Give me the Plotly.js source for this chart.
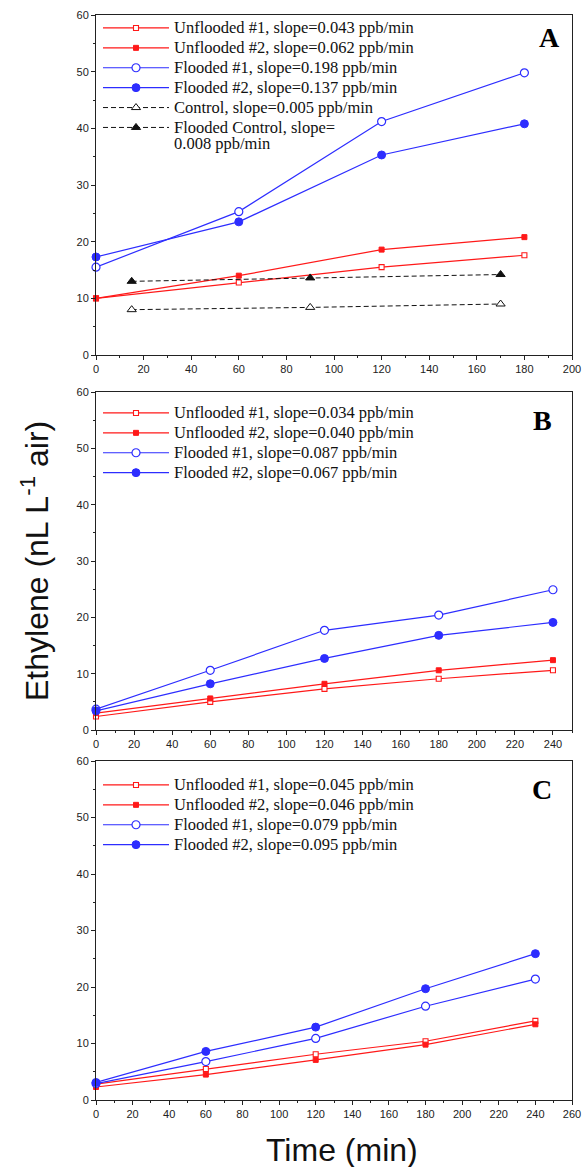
<!DOCTYPE html>
<html>
<head>
<meta charset="utf-8">
<script src="https://cdn.plot.ly/plotly-3.0.1.min.js"></script>
<style>html,body{margin:0;padding:0;background:#fff;}#chart{width:587px;height:1167px;}</style>
</head>
<body>
<div id="chart"></div>
<script>
// ---------- data ----------
const timeA = [0, 60, 120, 180];
const unflooded1A = [10.0, 12.8, 15.5, 17.6];
const unflooded2A = [10.0, 14.0, 18.6, 20.8];
const flooded1A = [15.5, 25.3, 41.2, 49.8];
const flooded2A = [17.3, 23.5, 35.3, 40.8];
const controlTimeA = [15, 90, 170];
const controlA = [8.0, 8.4, 9.0];
const floodedControlA = [13.0, 13.6, 14.2];

const timeB = [0, 60, 120, 180, 240];
const unflooded1B = [2.4, 5.0, 7.3, 9.1, 10.6];
const unflooded2B = [3.0, 5.6, 8.2, 10.6, 12.4];
const flooded1B = [3.7, 10.6, 17.7, 20.4, 24.9];
const flooded2B = [3.4, 8.2, 12.7, 16.8, 19.1];

const timeC = [0, 60, 120, 180, 240];
const unflooded1C = [2.8, 5.5, 8.1, 10.4, 14.0];
const unflooded2C = [2.3, 4.5, 7.1, 9.8, 13.4];
const flooded1C = [2.9, 6.8, 10.9, 16.6, 21.4];
const flooded2C = [3.1, 8.6, 12.9, 19.7, 25.9];

const namesA = ["Unflooded #1, slope=0.043 ppb/min", "Unflooded #2, slope=0.062 ppb/min",
  "Flooded #1, slope=0.198 ppb/min", "Flooded #2, slope=0.137 ppb/min",
  "Control, slope=0.005 ppb/min", "Flooded Control, slope=|0.008 ppb/min"];
const namesB = ["Unflooded #1, slope=0.034 ppb/min", "Unflooded #2, slope=0.040 ppb/min",
  "Flooded #1, slope=0.087 ppb/min", "Flooded #2, slope=0.067 ppb/min"];
const namesC = ["Unflooded #1, slope=0.045 ppb/min", "Unflooded #2, slope=0.046 ppb/min",
  "Flooded #1, slope=0.079 ppb/min", "Flooded #2, slope=0.095 ppb/min"];
const panelLabels = ["A", "B", "C"];
const xTitle = "Time (min)";
const yTitle = "Ethylene (nL L<sup>-1</sup> air)";

// ---------- styling ----------
const RED = "rgb(255,25,25)";
const BLUE = "rgb(45,45,255)";
const BLK = "#111";
const LEGFS = 16.5;
function lg(name) {
  return name.split("|").map(s => '<span style="font-size:' + LEGFS + 'px">' + s + '</span>').join("<br>");
}
// pixel -> paper helpers (layout placement only)
const L = 96, R = 572, T = 15, B = 1100;
const px = v => (v - L) / (R - L);
const py = v => (B - v) / (B - T);

const styles = {
  u1: {line: {color: RED, width: 1.2}, marker: {symbol: "square", size: 5, color: "white", line: {color: RED, width: 1.1}}},
  u2: {line: {color: RED, width: 1.2}, marker: {symbol: "square", size: 5, color: RED, line: {color: RED, width: 1}}},
  f1: {line: {color: BLUE, width: 1.2}, marker: {symbol: "circle", size: 8, color: "white", line: {color: BLUE, width: 1.2}}},
  f2: {line: {color: BLUE, width: 1.2}, marker: {symbol: "circle", size: 8, color: BLUE, line: {color: BLUE, width: 1}}},
  c: {line: {color: BLK, width: 1, dash: "5px,3px"}, marker: {symbol: "triangle-up", size: 8, color: "white", line: {color: BLK, width: 1}}},
  fc: {line: {color: BLK, width: 1, dash: "5px,3px"}, marker: {symbol: "triangle-up", size: 8, color: BLK, line: {color: BLK, width: 1}}}
};
function tr(x, y, name, st, xa, ya, leg) {
  return Object.assign({type: "scatter", mode: "lines+markers", x: x, y: y, name: lg(name),
    xaxis: xa, yaxis: ya, legend: leg, cliponaxis: false, hoverinfo: "x+y"}, JSON.parse(JSON.stringify(st)));
}

const data = [
  tr(timeA, unflooded1A, namesA[0], styles.u1, "x", "y", "legend"),
  tr(timeA, unflooded2A, namesA[1], styles.u2, "x", "y", "legend"),
  tr(timeA, flooded1A, namesA[2], styles.f1, "x", "y", "legend"),
  tr(timeA, flooded2A, namesA[3], styles.f2, "x", "y", "legend"),
  tr(controlTimeA, controlA, namesA[4], styles.c, "x", "y", "legend"),
  tr(controlTimeA, floodedControlA, namesA[5], styles.fc, "x", "y", "legend"),
  tr(timeB, unflooded1B, namesB[0], styles.u1, "x2", "y2", "legend2"),
  tr(timeB, unflooded2B, namesB[1], styles.u2, "x2", "y2", "legend2"),
  tr(timeB, flooded1B, namesB[2], styles.f1, "x2", "y2", "legend2"),
  tr(timeB, flooded2B, namesB[3], styles.f2, "x2", "y2", "legend2"),
  tr(timeC, unflooded1C, namesC[0], styles.u1, "x3", "y3", "legend3"),
  tr(timeC, unflooded2C, namesC[1], styles.u2, "x3", "y3", "legend3"),
  tr(timeC, flooded1C, namesC[2], styles.f1, "x3", "y3", "legend3"),
  tr(timeC, flooded2C, namesC[3], styles.f2, "x3", "y3", "legend3")
];

const tickfont = {family: "Liberation Sans, Arial, sans-serif", size: 11, color: "#222"};
function xax(range, anchor) {
  return {domain: [0, 1], anchor: anchor, range: range, tick0: 0, dtick: 20, ticks: "outside", ticklen: 4,
    tickcolor: "#222", showline: true, linecolor: "#222", linewidth: 1, mirror: true, showgrid: false,
    zeroline: false, tickfont: tickfont, fixedrange: true,
    minor: {dtick: 10, ticks: "outside", ticklen: 2, tickcolor: "#222", showgrid: false}};
}
function yax(dom, anchor) {
  return {domain: dom, anchor: anchor, range: [0, 60], tick0: 0, dtick: 10, ticks: "outside", ticklen: 4,
    tickcolor: "#222", showline: true, linecolor: "#222", linewidth: 1, mirror: true, showgrid: false,
    zeroline: false, tickfont: tickfont, fixedrange: true,
    minor: {dtick: 5, ticks: "outside", ticklen: 2, tickcolor: "#222", showgrid: false}};
}
function legendAt(xPx, yPx) {
  return {x: px(xPx), y: py(yPx), xanchor: "left", yanchor: "top", bgcolor: "rgba(0,0,0,0)", borderwidth: 0,
    font: {family: "Liberation Serif, Times New Roman, serif", size: 13, color: "#111"},
    itemwidth: 66, itemsizing: "trace", valign: "top", tracegroupgap: 0, itemclick: false, itemdoubleclick: false};
}
const letterFont = {family: "Liberation Serif, Times New Roman, serif", size: 28, color: "#000", weight: "bold"};

const layout = {
  width: 587, height: 1167,
  margin: {l: L, r: 587 - R, t: T, b: 1167 - B, pad: 0},
  paper_bgcolor: "white", plot_bgcolor: "white",
  showlegend: true,
  xaxis: xax([0, 200], "y"),
  yaxis: yax([py(355), 1], "x"),
  xaxis2: xax([0, 250], "y2"),
  yaxis2: yax([py(730), py(392)], "x2"),
  xaxis3: xax([0, 260], "y3"),
  yaxis3: yax([0, py(761)], "x3"),
  legend: legendAt(98, 13),
  legend2: legendAt(98, 398),
  legend3: legendAt(98, 770),
  annotations: [
    {text: "<b>" + panelLabels[0] + "</b>", xref: "paper", yref: "paper", x: px(549), y: py(38), xanchor: "center", yanchor: "middle", showarrow: false, font: letterFont},
    {text: "<b>" + panelLabels[1] + "</b>", xref: "paper", yref: "paper", x: px(542), y: py(421), xanchor: "center", yanchor: "middle", showarrow: false, font: letterFont},
    {text: "<b>" + panelLabels[2] + "</b>", xref: "paper", yref: "paper", x: px(542), y: py(789), xanchor: "center", yanchor: "middle", showarrow: false, font: letterFont},
    {text: yTitle, xref: "paper", yref: "paper", x: px(35), y: py(561), xanchor: "center", yanchor: "middle", textangle: -90, showarrow: false,
      font: {family: "Liberation Sans, Arial, sans-serif", size: 32, color: "#111"}},
    {text: xTitle, xref: "paper", yref: "paper", x: px(342), y: py(1150), xanchor: "center", yanchor: "middle", showarrow: false,
      font: {family: "Liberation Sans, Arial, sans-serif", size: 32, color: "#111"}}
  ]
};

Plotly.newPlot("chart", data, layout, {staticPlot: true, displayModeBar: false});
</script>
</body>
</html>
